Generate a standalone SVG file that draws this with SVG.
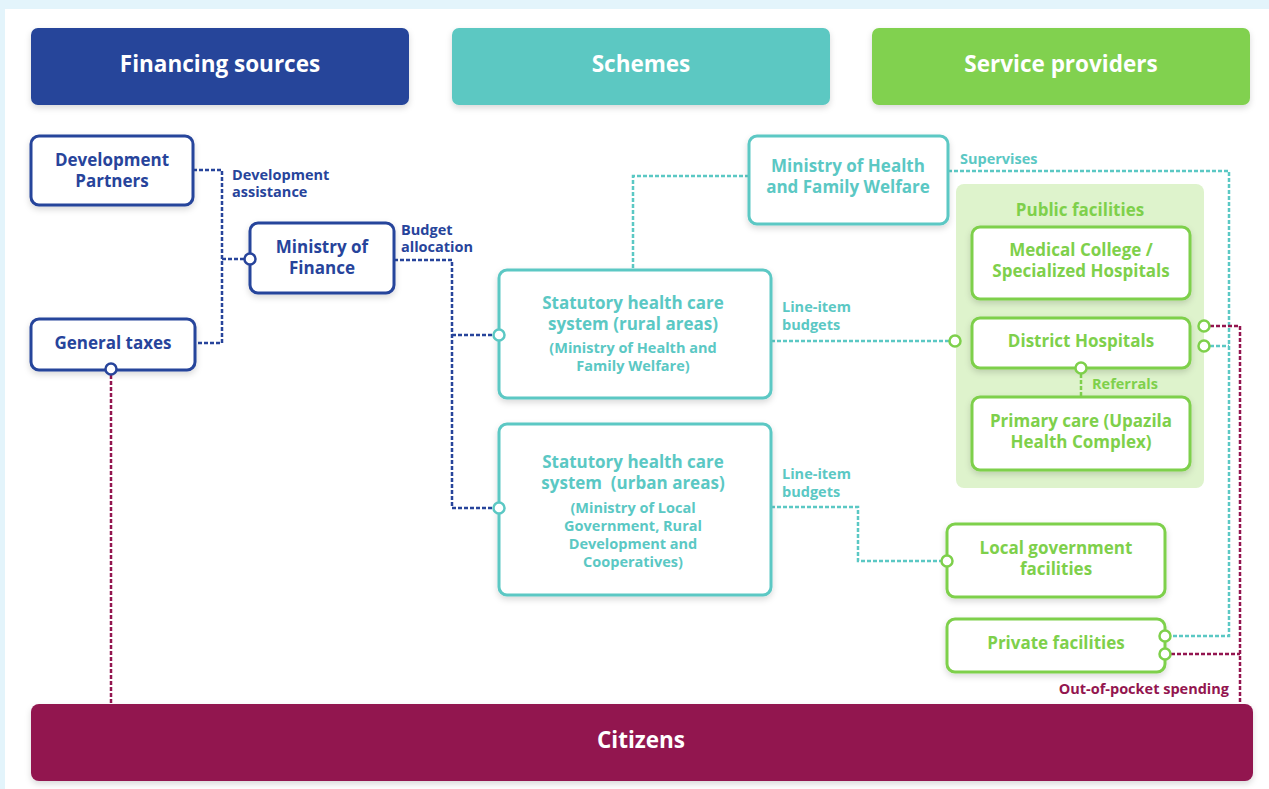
<svg xmlns="http://www.w3.org/2000/svg" width="1269" height="789" viewBox="0 0 1269 789">
<defs>
<filter id="sh" x="-20%" y="-20%" width="140%" height="150%">
<feDropShadow dx="0" dy="3" stdDeviation="3" flood-color="#000" flood-opacity="0.15"/>
</filter>
<style>
text{font-family:"Open Sans","Noto Sans","Liberation Sans",sans-serif;font-weight:700;text-anchor:middle}
.hd{fill:#fff;font-size:22.5px;font-weight:700}
.nb{fill:#fff;stroke:#27449b;stroke-width:3}
.nt{fill:#fff;stroke:#5bc8c4;stroke-width:3}
.ng{fill:#fff;stroke:#7ed04b;stroke-width:3}
.tb{fill:#27449b;font-size:17px}
.tt{fill:#5bc8c4;font-size:17px}
.ts{fill:#5bc8c4;font-size:14.5px}
.tg{fill:#7ed04b;font-size:17px}
.lb{fill:#27449b;font-size:14.5px;text-anchor:start}
.lt{fill:#5bc8c4;font-size:14.5px;text-anchor:start}
.lg{fill:#7ed04b;font-size:14.5px;text-anchor:start}
.lm{fill:#93154f;font-size:14.5px;text-anchor:end}
.d{fill:none;stroke-width:2.5;stroke-dasharray:4 2}
.db{stroke:#27449b}.dt{stroke:#5bc8c4}.dg{stroke:#7ed04b}.dm{stroke:#93154f}
.cb{fill:#fff;stroke:#27449b;stroke-width:2.5}
.ct{fill:#fff;stroke:#5bc8c4;stroke-width:2.5}
.cg{fill:#fff;stroke:#7ed04b;stroke-width:2.5}
</style>
</defs>
<rect x="0" y="0" width="1269" height="789" fill="#e3f4fb"/>
<rect x="5" y="9" width="1264" height="780" fill="#fff"/>

<g id="h-financing"><rect x="31" y="28" width="378" height="77" rx="7" fill="#25449a" filter="url(#sh)"/><text class="hd" x="220" y="72">Financing sources</text></g>
<g id="h-schemes"><rect x="452" y="28" width="378" height="77" rx="7" fill="#5bc8c2" filter="url(#sh)"/><text class="hd" x="641" y="72">Schemes</text></g>
<g id="h-providers"><rect x="872" y="28" width="378" height="77" rx="7" fill="#81d14f" filter="url(#sh)"/><text class="hd" x="1061" y="72">Service providers</text></g>

<g id="public-facilities"><rect x="956" y="184" width="248" height="304" rx="8" fill="#def3cc"/><text class="tg" x="1080" y="216">Public facilities</text></g>

<g id="connectors">
<path class="d db" d="M193,170 H222 V343 H195 M222,259 H250"/>
<path class="d db" d="M394,260 H452 V508 H499 M452,335 H499"/>
<path class="d dm" d="M111,369 V704"/>
<path class="d dt" d="M749,176 H633 V270"/>
<path class="d dt" d="M948,171 H1229 V636 H1165 M1204,346 H1229"/>
<path class="d dm" d="M1204,326 H1240 V704 M1165,654 H1240"/>
<path class="d dt" d="M771,341 H955"/>
<path class="d dt" d="M771,507 H858 V561 H947"/>
<path class="d dg" d="M1081,368 V397"/>
<text class="lb" x="232" y="180">Development</text><text class="lb" x="232" y="197">assistance</text>
<text class="lb" x="401" y="235">Budget</text><text class="lb" x="401" y="252">allocation</text>
<text class="lt" x="782" y="312">Line-item</text><text class="lt" x="782" y="330">budgets</text>
<text class="lt" x="782" y="479">Line-item</text><text class="lt" x="782" y="497">budgets</text>
<text class="lt" x="960" y="164">Supervises</text>
<text class="lg" x="1092" y="389">Referrals</text>
<text class="lm" x="1229" y="694">Out-of-pocket spending</text>
</g>

<g id="n-dev-partners"><rect class="nb" x="31" y="136" width="162" height="69" rx="8" filter="url(#sh)"/><text class="tb" x="112" y="166">Development</text><text class="tb" x="112" y="187">Partners</text></g>
<g id="n-general-taxes"><rect class="nb" x="31" y="319" width="164" height="51" rx="8" filter="url(#sh)"/><text class="tb" x="113" y="349">General taxes</text></g>
<g id="n-mof"><rect class="nb" x="250" y="223" width="144" height="70" rx="8" filter="url(#sh)"/><text class="tb" x="322" y="253">Ministry of</text><text class="tb" x="322" y="274">Finance</text></g>
<g id="n-rural"><rect class="nt" x="499" y="270" width="272" height="128" rx="8" filter="url(#sh)"/><text class="tt" x="633" y="309">Statutory health care</text><text class="tt" x="633" y="330">system (rural areas)</text><text class="ts" x="633" y="353">(Ministry of Health and</text><text class="ts" x="633" y="371">Family Welfare)</text></g>
<g id="n-urban"><rect class="nt" x="499" y="424" width="272" height="171" rx="8" filter="url(#sh)"/><text class="tt" x="633" y="468">Statutory health care</text><text class="tt" x="633" y="489" xml:space="preserve">system  (urban areas)</text><text class="ts" x="633" y="513">(Ministry of Local</text><text class="ts" x="633" y="531">Government, Rural</text><text class="ts" x="633" y="549">Development and</text><text class="ts" x="633" y="567">Cooperatives)</text></g>
<g id="n-mohfw"><rect class="nt" x="749" y="136" width="199" height="88" rx="8" filter="url(#sh)"/><text class="tt" x="848" y="172">Ministry of Health</text><text class="tt" x="848" y="193">and Family Welfare</text></g>
<g id="n-medical"><rect class="ng" x="972" y="227" width="218" height="72" rx="8" filter="url(#sh)"/><text class="tg" x="1081" y="256">Medical College /</text><text class="tg" x="1081" y="277">Specialized Hospitals</text></g>
<g id="n-district"><rect class="ng" x="972" y="318" width="218" height="50" rx="8" filter="url(#sh)"/><text class="tg" x="1081" y="347">District Hospitals</text></g>
<g id="n-primary"><rect class="ng" x="972" y="397" width="218" height="73" rx="8" filter="url(#sh)"/><text class="tg" x="1081" y="427">Primary care (Upazila</text><text class="tg" x="1081" y="448">Health Complex)</text></g>
<g id="n-local"><rect class="ng" x="947" y="524" width="218" height="73" rx="8" filter="url(#sh)"/><text class="tg" x="1056" y="554">Local government</text><text class="tg" x="1056" y="575">facilities</text></g>
<g id="n-private"><rect class="ng" x="947" y="619" width="218" height="53" rx="8" filter="url(#sh)"/><text class="tg" x="1056" y="649">Private facilities</text></g>
<g id="n-citizens"><rect x="31" y="704" width="1222" height="77" rx="8" fill="#92154f" filter="url(#sh)"/><text class="hd" x="641" y="748">Citizens</text></g>

<g id="ports">
<circle class="cb" cx="250" cy="259" r="5.5"/>
<circle class="ct" cx="499" cy="335" r="5.5"/>
<circle class="ct" cx="499" cy="508" r="5.5"/>
<circle class="cb" cx="111" cy="369" r="5.5"/>
<circle class="cg" cx="955" cy="341" r="5.5"/>
<circle class="cg" cx="947" cy="561" r="5.5"/>
<circle class="cg" cx="1081" cy="368" r="5.5"/>
<circle class="cg" cx="1204" cy="326" r="5.5"/>
<circle class="cg" cx="1204" cy="346" r="5.5"/>
<circle class="cg" cx="1165" cy="636" r="5.5"/>
<circle class="cg" cx="1165" cy="654" r="5.5"/>
</g>
</svg>
